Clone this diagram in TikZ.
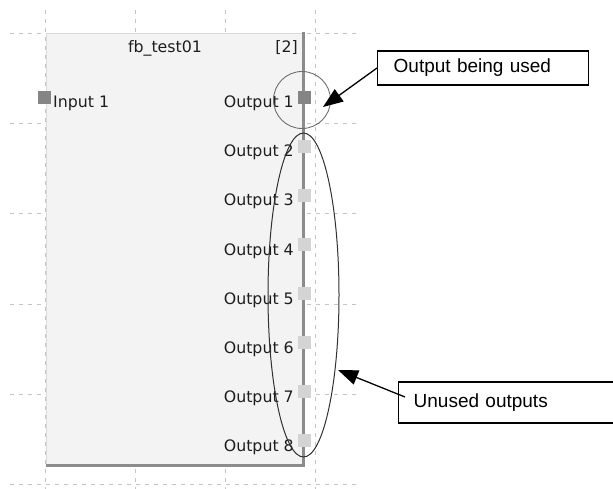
\documentclass[tikz,border=0pt]{standalone}
\usepackage{fontspec}
\setmainfont{Liberation Sans}
\newfontfamily\blockfont{DejaVu Sans}
\usetikzlibrary{shapes.geometric,arrows.meta}
\definecolor{gridc}{HTML}{C4C4C4}
\definecolor{boxfill}{HTML}{F3F3F3}
\definecolor{boxrim}{HTML}{DADADA}
\definecolor{edgec}{HTML}{8C8C8C}
\definecolor{porton}{HTML}{858585}
\definecolor{portoff}{HTML}{D4D4D4}
\definecolor{lblc}{HTML}{1E1E1E}
\definecolor{ringc}{HTML}{6E6E6E}
\definecolor{ellc}{HTML}{303030}
\tikzset{
  gridline/.style={draw=gridc, line width=0.8pt, dash pattern=on 4pt off 5pt},
  blockbox/.style={rectangle, fill=boxfill, draw=boxrim, line width=0.8pt, inner sep=0pt, outer sep=0pt},
  edgeline/.style={draw=edgec, line width=3pt},
  porton/.style={rectangle, fill=porton, minimum size=13pt, inner sep=0pt, outer sep=0pt},
  portoff/.style={rectangle, fill=portoff, minimum size=13pt, inner sep=0pt, outer sep=0pt},
  lbl/.style={font=\blockfont\fontsize{15.8pt}{18pt}\selectfont, text=lblc, inner sep=0pt},
  usedring/.style={circle, draw=ringc, line width=0.9pt, minimum size=57pt, inner sep=0pt},
  unusedring/.style={ellipse, draw=ellc, line width=1pt, minimum width=71pt, minimum height=324pt, inner sep=0pt},
  callout/.style={rectangle, draw=black, line width=1.3pt, align=left, inner ysep=0pt,
    font=\fontsize{19pt}{22pt}\selectfont},
  callarrow/.style={draw=black, line width=1.3pt, -{Triangle[length=20pt,width=15pt]}}
}
\begin{document}
\begin{tikzpicture}[x=1pt,y=-1pt]
\useasboundingbox (0,0) rectangle (613,489);
% grid
\foreach \gx in {45,135,225,315} \draw[gridline] (\gx,10) -- (\gx,489);
\foreach \gy in {33,123,213,304,394,484} \draw[gridline] (10,\gy) -- (360,\gy);
% function block
\node[blockbox, minimum width=257pt, minimum height=432pt] (fb) at (174.5,249) {};
\draw[edgeline] ([yshift=1pt]fb.north east) -- (fb.south east) -- (fb.south west);
\node[lbl, anchor=base] (title) at (165,53) {fb\_test01};
\node[lbl, anchor=base east] (idx) at (298,53) {[2]};
% ports
\node[porton] (in1) at (44.5,97.5) {};
\node[lbl, anchor=base west] (inlbl) at (53,108) {Input 1};
\node[porton] (o1) at (304.5,97.5) {};
\node[lbl, anchor=base east] (l1) at (294,108) {Output 1};
\foreach \k in {2,...,8}{
  \node[portoff] (o\k) at (304.5,{97.5+49*(\k-1)}) {};
  \node[lbl, anchor=base east] (l\k) at (294,{108+49*(\k-1)}) {Output \k};
}
% rings
\node[usedring] (ring1) at (302,100) {};
\node[unusedring] (ring2) at (303.5,295) {};
% callouts
\node[callout, anchor=west, text width=179pt, inner xsep=16pt, minimum height=34pt] (c1) at (377,68) {Output being used};
\node[callout, anchor=west, text width=188pt, inner xsep=15pt, minimum height=41pt] (c2) at (398,402.5) {\raisebox{3pt}{Unused outputs}};
\coordinate (tip1) at (323,107);
\coordinate (s2) at (405,397);
\coordinate (tip2) at (338,370);
\draw[callarrow] (c1.west) -- (tip1);
\draw[callarrow] (s2) -- (tip2);
\end{tikzpicture}
\end{document}
